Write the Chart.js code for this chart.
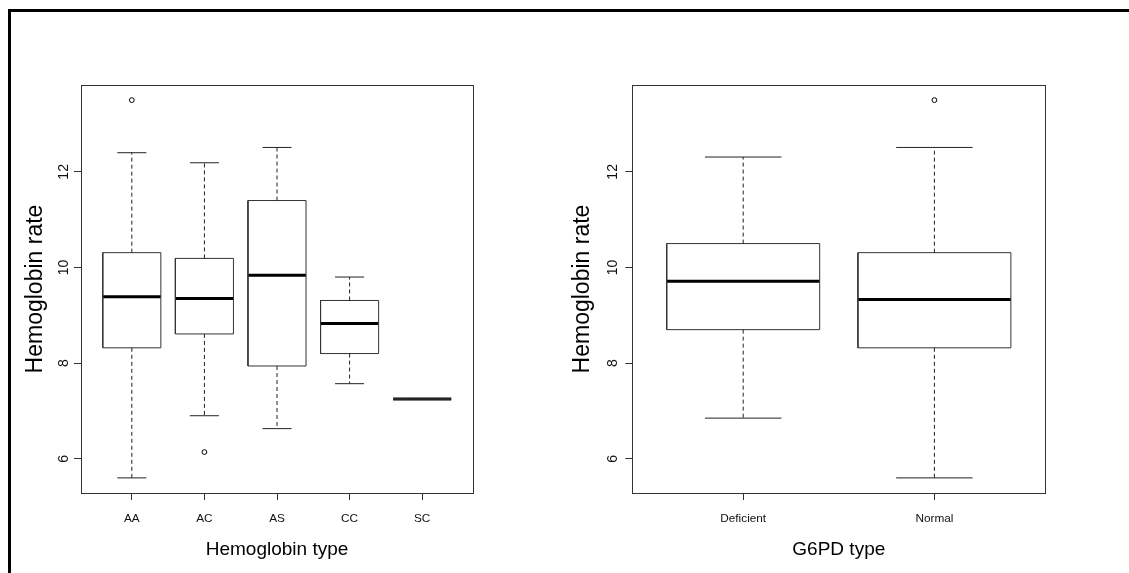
<!DOCTYPE html>
<html><head><meta charset="utf-8">
<script src="https://cdn.jsdelivr.net/npm/chart.js@4.4.1/dist/chart.umd.min.js"></script>
<style>
html,body{margin:0;padding:0;background:#fff;}
#wrap{position:relative;width:1129px;height:573px;overflow:hidden;background:#fff;}
#frame{position:absolute;left:8px;top:9px;width:1200px;height:600px;border-top:3px solid #000;border-left:3px solid #000;}
canvas{position:absolute;top:0;}
#c1{left:0;}
#c2{left:560px;}
</style></head><body>
<div id="wrap"><div id="frame"></div>
<canvas id="c1" width="560" height="573"></canvas>
<canvas id="c2" width="569" height="573"></canvas></div>
<script>
// ---------- data: left panel (Hemoglobin type) ----------
const hbCategories   = ['AA', 'AC', 'AS', 'CC', 'SC'];
const hbLowerWhisker = [5.6, 6.9, 6.63, 7.57, 7.25];
const hbQ1           = [8.32, 8.61, 7.94, 8.2, 7.25];
const hbMedian       = [9.39, 9.35, 9.84, 8.83, 7.25];
const hbQ3           = [10.31, 10.19, 11.4, 9.31, 7.25];
const hbUpperWhisker = [12.4, 12.19, 12.51, 9.8, 7.25];
const hbOutliers     = [[13.5], [6.14], [], [], []];

// ---------- data: right panel (G6PD type) ----------
const g6Categories   = ['Deficient', 'Normal'];
const g6LowerWhisker = [6.85, 5.6];
const g6Q1           = [8.7, 8.32];
const g6Median       = [9.71, 9.33];
const g6Q3           = [10.5, 10.31];
const g6UpperWhisker = [12.31, 12.51];
const g6Outliers     = [[], [13.5]];

const yTickValues = [6, 8, 10, 12];

// ---------- fonts ----------
function hasFont(name){
  const c = document.createElement('canvas').getContext('2d');
  c.font = '40px monospace';
  const a = c.measureText('Hemoglobin type').width;
  c.font = '40px "' + name + '", monospace';
  return Math.abs(c.measureText('Hemoglobin type').width - a) > 0.5;
}
const REG = '"Liberation Sans", Arial, Helvetica, sans-serif';
const narrowName = hasFont('Liberation Sans Narrow') ? 'Liberation Sans Narrow' : (hasFont('Arial Narrow') ? 'Arial Narrow' : null);
const NAR = narrowName ? '"' + narrowName + '", ' + REG : REG;
const xTickFont  = narrowName ? {family: NAR, size: 14} : {family: REG, size: 11.8};
const xTitleFont = narrowName ? {family: NAR, size: 23, lineHeight: 1.2} : {family: REG, size: 19, lineHeight: 1.2};
const yTickFont  = {family: REG, size: 14};
const yTitleFont = {family: REG, size: 23, lineHeight: 1.2};

const BOX_WEX = 0.8, STAPLE_WEX = 0.4;

function boxDatasets(cats, lo, q1, med, q3, hi, outs){
  const box = [], whisk = [], caps = [], meds = [], pts = [];
  cats.forEach((c, i) => {
    const x = i + 1, h = BOX_WEX / 2, k = STAPLE_WEX / 2;
    box.push({x: x - h, y: q1[i]}, {x: x + h, y: q1[i]}, {x: x + h, y: q3[i]}, {x: x - h, y: q3[i]}, {x: x - h, y: q1[i]}, {x: x, y: null});
    whisk.push({x, y: q3[i]}, {x, y: hi[i]}, {x, y: null}, {x, y: q1[i]}, {x, y: lo[i]}, {x, y: null});
    caps.push({x: x - k, y: hi[i]}, {x: x + k, y: hi[i]}, {x, y: null}, {x: x - k, y: lo[i]}, {x: x + k, y: lo[i]}, {x, y: null});
    meds.push({x: x - h, y: med[i]}, {x: x + h, y: med[i]}, {x, y: null});
    outs[i].forEach(v => pts.push({x, y: v}));
  });
  const line = {showLine: true, pointRadius: 0, pointHoverRadius: 0, spanGaps: false, fill: false, tension: 0};
  return [
    Object.assign({label: 'whiskers', data: whisk, borderColor: '#222', borderWidth: 1, borderDash: [4, 3]}, line),
    Object.assign({label: 'staples', data: caps, borderColor: '#222', borderWidth: 1}, line),
    Object.assign({label: 'boxes', data: box, borderColor: '#333', borderWidth: 1}, line),
    Object.assign({label: 'medians', data: meds, borderColor: '#000', borderWidth: 3, borderCapStyle: 'butt'}, line),
    {label: 'outliers', data: pts, showLine: false, pointStyle: 'circle', pointRadius: 2.4, pointHoverRadius: 2.4,
     pointBorderWidth: 1, pointBorderColor: '#000', pointBackgroundColor: 'rgba(0,0,0,0)'}
  ];
}

const framePlugin = {
  id: 'plotFrame',
  afterDatasetsDraw(chart){
    const {ctx, chartArea: a} = chart;
    ctx.save();
    ctx.strokeStyle = '#333';
    ctx.lineWidth = 1;
    ctx.strokeRect(Math.round(a.left) + 0.5, Math.round(a.top) + 0.5, Math.round(a.right - a.left), Math.round(a.bottom - a.top));
    ctx.restore();
  }
};

function makeChart(canvasId, cats, lo, q1, med, q3, hi, outs, xTitle, L){
  const n = cats.length;
  const all = lo.concat(hi, outs.flat());
  const dmin = Math.min(...all), dmax = Math.max(...all), dr = dmax - dmin;
  return new Chart(document.getElementById(canvasId), {
    type: 'scatter',
    data: {datasets: boxDatasets(cats, lo, q1, med, q3, hi, outs)},
    options: {
      responsive: false, animation: false, devicePixelRatio: 1,
      layout: {padding: {left: 0, top: L.top, right: L.right, bottom: 0}},
      plugins: {legend: {display: false}, tooltip: {enabled: false}},
      events: [],
      scales: {
        x: {
          type: 'linear', min: 0.5 - 0.04 * n, max: n + 0.5 + 0.04 * n,
          afterBuildTicks: s => { s.ticks = cats.map((c, i) => ({value: i + 1})); },
          afterFit: s => { s.height = L.xAxisH; },
          ticks: {callback: v => cats[Math.round(v) - 1], autoSkip: false, maxRotation: 0, minRotation: 0,
                  font: xTickFont, color: '#111', padding: L.xTickPad},
          grid: {display: true, drawOnChartArea: false, drawTicks: true, tickLength: 7, color: '#333', lineWidth: 1},
          border: {display: false},
          title: {display: true, text: xTitle, font: xTitleFont, color: '#000', padding: {top: 0, bottom: L.xTitlePad}}
        },
        y: {
          type: 'linear', min: dmin - 0.04 * dr, max: dmax + 0.04 * dr,
          afterBuildTicks: s => { s.ticks = yTickValues.map(v => ({value: v})); },
          afterFit: s => { s.width = L.yAxisW; },
          ticks: {minRotation: 90, maxRotation: 90, crossAlign: 'center', font: yTickFont, color: '#111', padding: L.yTickPad},
          grid: {display: true, drawOnChartArea: false, drawTicks: true, tickLength: 7, color: '#333', lineWidth: 1},
          border: {display: false},
          title: {display: true, text: 'Hemoglobin rate', font: yTitleFont, color: '#000', padding: {top: L.yTitlePad, bottom: 0}}
        }
      }
    },
    plugins: [framePlugin]
  });
}

makeChart('c1', hbCategories, hbLowerWhisker, hbQ1, hbMedian, hbQ3, hbUpperWhisker, hbOutliers, 'Hemoglobin type',
  {top: 85, right: 87, yAxisW: 81, xAxisH: 80, xTickPad: 12, xTitlePad: 12, yTickPad: 2, yTitlePad: 21.5});
makeChart('c2', g6Categories, g6LowerWhisker, g6Q1, g6Median, g6Q3, g6UpperWhisker, g6Outliers, 'G6PD type',
  {top: 85, right: 83.7, yAxisW: 72.3, xAxisH: 80, xTickPad: 12, xTitlePad: 12, yTickPad: 4.5, yTitlePad: 9.2});
</script>
</body></html>
